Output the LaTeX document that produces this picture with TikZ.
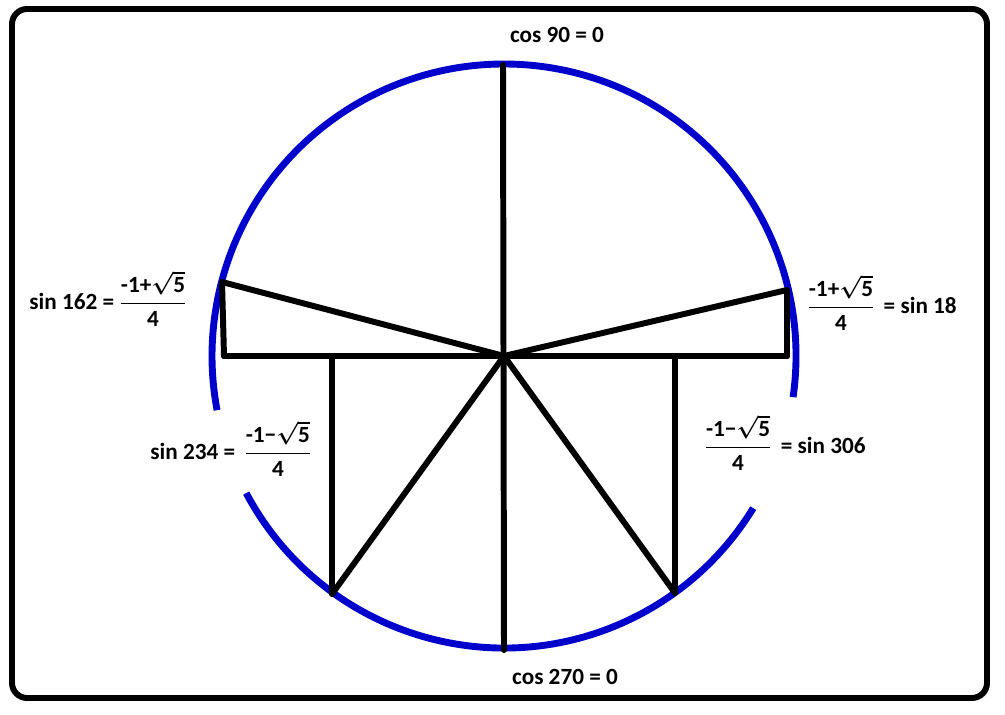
\documentclass[tikz,border=0pt]{standalone}
\usepackage{amsmath}
\usepackage{fontspec}
\setmainfont{Carlito}
\definecolor{ringblue}{RGB}{0,0,204}

\begin{document}
\begin{tikzpicture}[
    x=0.0265cm, y=0.0265cm,
    frame/.style={draw, line width=4.5pt, rounded corners=0.4cm},
    ring/.style={draw=ringblue, line width=5.2pt},
    spoke/.style={draw, line width=4.5pt, line cap=round, line join=round},
    trig/.style={font=\bfseries\boldmath\fontsize{17.5}{20}\selectfont, inner sep=0pt}
]
\useasboundingbox (0,0) rectangle (1005,715);
\draw [frame] (12,17) rectangle (987,706);

% points on the circle and their feet on the axis
\coordinate (O) at (504,359);
\coordinate (Top) at (503,650);
\coordinate (Bot) at (504,65);
\coordinate (P162) at (222,433);
\coordinate (F162) at (224,359);
\coordinate (P18) at (787,425);
\coordinate (F18) at (787,359);
\coordinate (P234) at (332,121);
\coordinate (F234) at (332,359);
\coordinate (P306) at (675,122);
\coordinate (F306) at (675,359);

% circle, broken where the lower labels sit
\draw [ring] (O) ++(-8.1:292) arc[start angle=-8.1, end angle=190.7, radius=292];
\draw [ring] (O) ++(208:292) arc[start angle=208, end angle=328.6, radius=292];

\draw [spoke] (Top) -- (Bot);
\draw [spoke] (F162) -- (F18);
\draw [spoke] (O) -- (P162) -- (F162);
\draw [spoke] (O) -- (P18) -- (F18);
\draw [spoke] (O) -- (P234) -- (F234);
\draw [spoke] (O) -- (P306) -- (F306);

\node (cos90) [trig] at (557,680) {cos 90 = 0};
\node (cos270) [trig] at (565,38) {cos 270 = 0};
\node (sin162) [trig] at (108,416)
  {sin 162 = $\dfrac{\text{-1+}\sqrt{\text{5}}}{\text{4}}$};
\node (sin18) [trig] at (882,412)
  {$\dfrac{\text{-1+}\sqrt{\text{5}}}{\text{4}}$\, = sin 18};
\node (sin234) [trig] at (231,266)
  {sin 234 = \,$\dfrac{\text{-1−}\sqrt{\text{5}}}{\text{4}}$};
\node (sin306) [trig] at (785,272)
  {$\dfrac{\text{-1−}\sqrt{\text{5}}}{\text{4}}$\, = sin 306};
\end{tikzpicture}
\end{document}
